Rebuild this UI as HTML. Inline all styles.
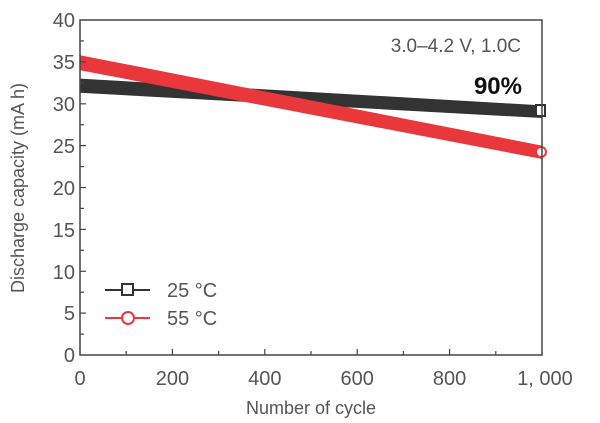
<!DOCTYPE html>
<html><head><style>body{margin:0;background:#fff}svg{display:block}</style></head><body>
<svg width="600" height="423" viewBox="0 0 600 423" xmlns="http://www.w3.org/2000/svg" font-family="Liberation Sans, sans-serif">
<rect width="600" height="423" fill="#fff"/>
<polygon points="80,78.6 542,105.4 542,118 80,92.8" fill="#333"/>
<polygon points="80,55.2 542,145.6 542,159 80,70.2" fill="#e8383c"/>
<rect x="536" y="105" width="9" height="11" fill="#fff" stroke="#333" stroke-width="2"/>
<circle cx="541" cy="152" r="5" fill="#fff" stroke="#e8383c" stroke-width="2"/>
<rect x="80" y="20" width="462" height="335" fill="none" stroke="#444" stroke-width="1.5"/>
<g stroke="#444" stroke-width="1.2">
<line x1="80" y1="40.9" x2="84" y2="40.9"/><line x1="80" y1="61.9" x2="86" y2="61.9"/>
<line x1="80" y1="82.8" x2="84" y2="82.8"/><line x1="80" y1="103.8" x2="86" y2="103.8"/>
<line x1="80" y1="124.7" x2="84" y2="124.7"/><line x1="80" y1="145.6" x2="86" y2="145.6"/>
<line x1="80" y1="166.6" x2="84" y2="166.6"/><line x1="80" y1="187.5" x2="86" y2="187.5"/>
<line x1="80" y1="208.4" x2="84" y2="208.4"/><line x1="80" y1="229.4" x2="86" y2="229.4"/>
<line x1="80" y1="250.3" x2="84" y2="250.3"/><line x1="80" y1="271.3" x2="86" y2="271.3"/>
<line x1="80" y1="292.2" x2="84" y2="292.2"/><line x1="80" y1="313.1" x2="86" y2="313.1"/>
<line x1="80" y1="334.1" x2="84" y2="334.1"/>
<line x1="126.2" y1="355" x2="126.2" y2="351"/><line x1="172.4" y1="355" x2="172.4" y2="349"/>
<line x1="218.6" y1="355" x2="218.6" y2="351"/><line x1="264.8" y1="355" x2="264.8" y2="349"/>
<line x1="311" y1="355" x2="311" y2="351"/><line x1="357.2" y1="355" x2="357.2" y2="349"/>
<line x1="403.4" y1="355" x2="403.4" y2="351"/><line x1="449.6" y1="355" x2="449.6" y2="349"/>
<line x1="495.8" y1="355" x2="495.8" y2="351"/>
</g>
<g fill="#555" font-size="20" text-anchor="end">
<text x="75" y="27">40</text><text x="75" y="69">35</text><text x="75" y="111">30</text>
<text x="75" y="153">25</text><text x="75" y="195">20</text><text x="75" y="237">15</text>
<text x="75" y="279">10</text><text x="75" y="320">5</text><text x="75" y="362">0</text>
</g>
<g fill="#555" font-size="20" text-anchor="middle">
<text x="80" y="385">0</text><text x="172.4" y="385">200</text><text x="264.8" y="385">400</text>
<text x="357.2" y="385">600</text><text x="449.6" y="385">800</text><text x="545" y="385">1, 000</text>
</g>
<text x="311" y="414" fill="#555" font-size="18" text-anchor="middle">Number of cycle</text>
<text transform="translate(24,188) rotate(-90)" fill="#555" font-size="18" text-anchor="middle">Discharge capacity (mA h)</text>
<text x="521" y="52" fill="#555" font-size="19" text-anchor="end">3.0–4.2 V, 1.0C</text>
<text x="522" y="94" fill="#111" font-size="24" font-weight="bold" text-anchor="end">90%</text>
<line x1="105" y1="290" x2="150" y2="290" stroke="#333" stroke-width="2"/>
<rect x="122" y="284" width="11" height="11" fill="#fff" stroke="#333" stroke-width="2"/>
<text x="167" y="297" fill="#555" font-size="20">25 °C</text>
<line x1="105" y1="318" x2="150" y2="318" stroke="#e8383c" stroke-width="2"/>
<circle cx="128" cy="318" r="6" fill="#fff" stroke="#e8383c" stroke-width="2"/>
<text x="167" y="325" fill="#555" font-size="20">55 °C</text>
</svg>
</body></html>
